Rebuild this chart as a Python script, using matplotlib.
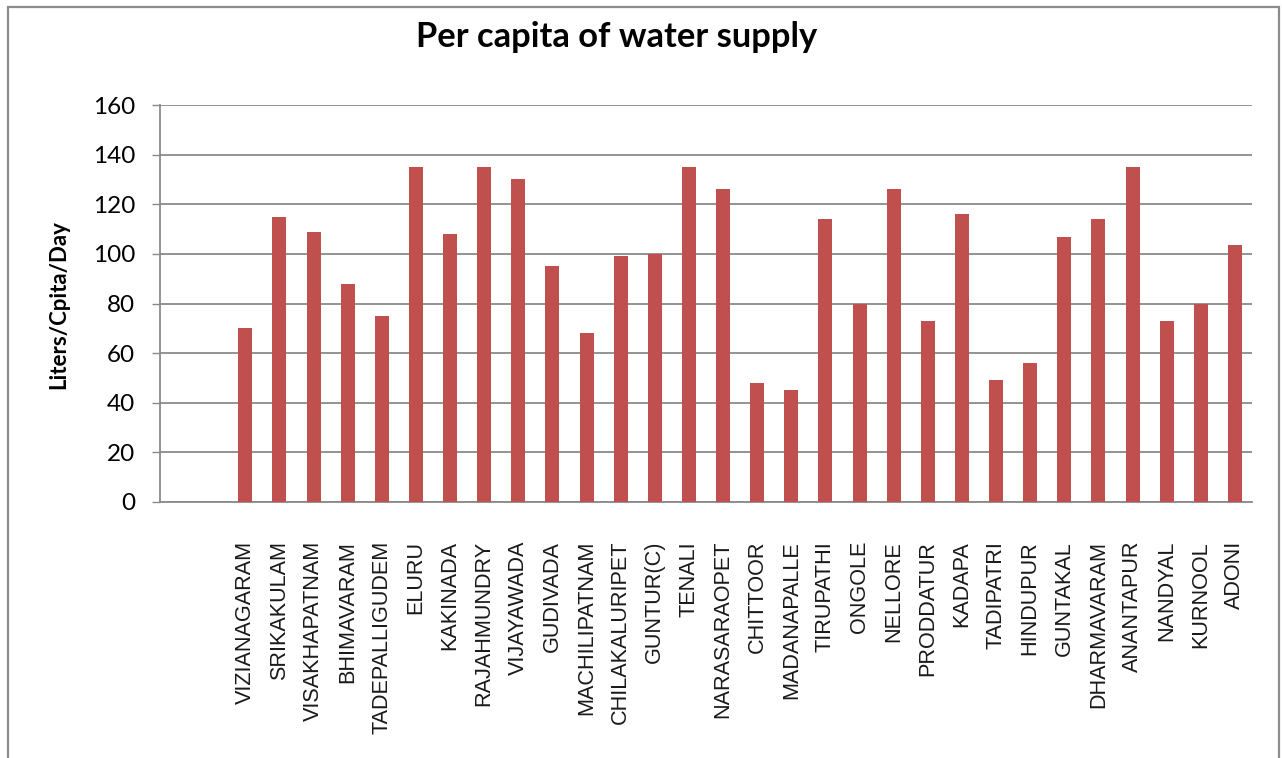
import matplotlib
matplotlib.use("Agg")
import matplotlib.pyplot as plt
from matplotlib.patches import Rectangle

# Towns in plotting order (two leading empty slots on the category axis)
towns = [
    "", "",
    "VIZIANAGARAM", "SRIKAKULAM", "VISAKHAPATNAM", "BHIMAVARAM",
    "TADEPALLIGUDEM", "ELURU", "KAKINADA", "RAJAHMUNDRY", "VIJAYAWADA",
    "GUDIVADA", "MACHILIPATNAM", "CHILAKALURIPET", "GUNTUR(C)", "TENALI",
    "NARASARAOPET", "CHITTOOR", "MADANAPALLE", "TIRUPATHI", "ONGOLE",
    "NELLORE", "PRODDATUR", "KADAPA", "TADIPATRI", "HINDUPUR", "GUNTAKAL",
    "DHARMAVARAM", "ANANTAPUR", "NANDYAL", "KURNOOL", "ADONI",
]

# Litres per capita per day (None = no value)
lpcd = [
    None, None,
    70, 115, 109, 88,
    75, 135, 108, 135, 130,
    95, 68, 99, 100, 135,
    126, 48, 45, 114, 80,
    126, 73, 116, 49, 56, 107,
    114, 135, 73, 80, 103.5,
]

y_ticks = [0, 20, 40, 60, 80, 100, 120, 140, 160]

W, H = 1282, 758
fig = plt.figure(figsize=(W / 100, H / 100), dpi=100)
fig.patch.set_facecolor("white")

# Outer chart frame
fig.add_artist(Rectangle((8 / W, -0.01), (1279 - 8) / W, 1 - 7 / H + 0.01,
                         transform=fig.transFigure, fill=False,
                         edgecolor="#8c8c8c", linewidth=1.6))

left, right, top, bottom = 160, 1252, 105, 502
ax = fig.add_axes([left / W, 1 - bottom / H, (right - left) / W, (bottom - top) / H])

xs = [i for i, v in enumerate(lpcd) if v is not None]
vals = [v for v in lpcd if v is not None]
ax.bar(xs, vals, width=0.41, color="#C0504D", zorder=3)

ax.set_xlim(-0.5, len(towns) - 0.5)
ax.set_ylim(0, 160)
ax.set_yticks(y_ticks)
ax.set_yticklabels([str(t) for t in y_ticks], fontfamily="Lato", fontsize=17.5)
ax.yaxis.grid(True, color="#8a8a8a", linewidth=1.3, zorder=0)
ax.tick_params(axis="y", length=6, width=1.0, color="#8a8a8a", pad=12)

ax.set_xticks(range(len(towns)))
ax.set_xticklabels(towns, rotation=90, fontfamily="Liberation Sans", fontsize=15.6,
                   va="top", ha="center", color="#1a1a1a")
ax.tick_params(axis="x", length=0, pad=28)

for s in ["top", "right"]:
    ax.spines[s].set_visible(False)
for s in ["left", "bottom"]:
    ax.spines[s].set_color("#8a8a8a")
    ax.spines[s].set_linewidth(1.3)

fig.text(617 / W, 1 - 37 / H, "Per capita of water supply", ha="center", va="center",
         fontfamily="Lato", fontweight="bold", fontsize=24.8)
fig.text(59 / W, 1 - 305 / H, "Liters/Cpita/Day", ha="center", va="center",
         rotation=90, fontfamily="Lato", fontweight="bold", fontsize=16)

fig.savefig("out.png", dpi=100, facecolor="white")
